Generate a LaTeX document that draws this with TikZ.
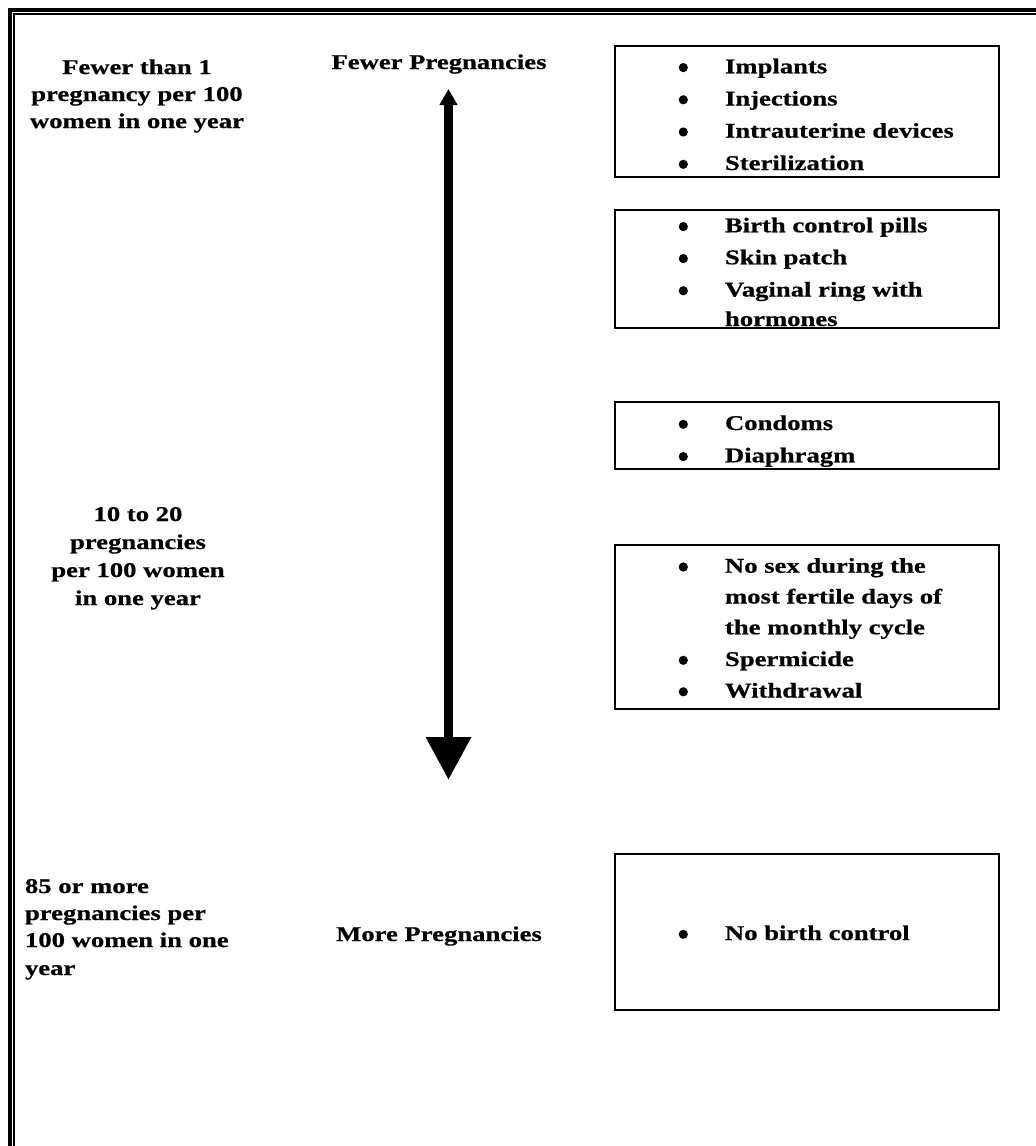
\documentclass[tikz,border=0pt]{standalone}
\usepackage{fontspec}
\setmainfont{Liberation Serif}[FakeStretch=1.27, BoldFeatures={FakeBold=0.6}]
\usetikzlibrary{arrows.meta}
\begin{document}
\begin{tikzpicture}[x=1pt,y=-1pt,
  every node/.style={inner sep=0pt, outer sep=0pt, font=\fontsize{21}{27}\selectfont\bfseries},
  boxframe/.style={draw, line width=2pt, anchor=north west, minimum width=384.3pt},
  item/.style={anchor=base west},
  ctext/.style={anchor=base},
  ltext/.style={anchor=base west},
  bul/.style={fill=black}]
\useasboundingbox (0,0) rectangle (1036,1146);
% page frame
\draw[line width=4.5pt, line join=miter] (9.8,1146) -- (9.8,9.8) -- (1036,9.8);
\draw[line width=1.5pt, line join=miter] (14.2,1146) -- (14.2,14.2) -- (1036,14.2);

% left column
\node[ctext] (l1a) at (137,74) {Fewer than 1};
\node[ctext] (l1b) at (137,101) {pregnancy per 100};
\node[ctext] (l1c) at (137,128) {women in one year};

\node[ctext] (l2a) at (138,521) {10 to 20};
\node[ctext] (l2b) at (138,549) {pregnancies};
\node[ctext] (l2c) at (138,577) {per 100 women};
\node[ctext] (l2d) at (138,605) {in one year};

\node[ltext] (l3a) at (25,893) {85 or more};
\node[ltext] (l3b) at (25,920) {pregnancies per};
\node[ltext] (l3c) at (25,947) {100 women in one};
\node[ltext] (l3d) at (25,975) {year};

% middle
\node[ctext] (fewer) at (439,69) {Fewer Pregnancies};
\node[ctext] (more) at (439,941) {More Pregnancies};
\coordinate (atop) at (448.5,89);
\coordinate (abot) at (448.5,780);
\draw[line width=9.5pt, {Triangle[width=17pt,length=16pt]}-{Triangle[width=43pt,length=43pt]}] (atop) -- (abot);

% boxes
\node[boxframe, minimum height=131.6pt] (box1) at (614.7,45.7) {};
\node[boxframe, minimum height=118.4pt] (box2) at (614.7,210) {};
\node[boxframe, minimum height=66.4pt] (box3) at (614.7,402.3) {};
\node[boxframe, minimum height=164pt] (box4) at (614.7,545) {};
\node[boxframe, minimum height=156pt] (box5) at (614.7,854) {};

% box 1
\foreach \y in {73.3,105.5,137.7,170} \fill[bul] (683.3,\y-5.7) circle[radius=4.6pt];
\node[item] (b1a) at (725,73.3) {Implants};
\node[item] (b1b) at (725,105.5) {Injections};
\node[item] (b1c) at (725,137.7) {Intrauterine devices};
\node[item] (b1d) at (725,170) {Sterilization};

% box 2
\foreach \y in {232.3,264.3,296.5} \fill[bul] (683.3,\y-5.7) circle[radius=4.6pt];
\node[item] (b2a) at (725,232.3) {Birth control pills};
\node[item] (b2b) at (725,264.3) {Skin patch};
\node[item] (b2c) at (725,296.5) {Vaginal ring with};
\node[item] (b2d) at (725,326) {hormones};

% box 3
\foreach \y in {430,462.3} \fill[bul] (683.3,\y-5.7) circle[radius=4.6pt];
\node[item] (b3a) at (725,430) {Condoms};
\node[item] (b3b) at (725,462.3) {Diaphragm};

% box 4
\foreach \y in {572.7,666,697.5} \fill[bul] (683.3,\y-5.7) circle[radius=4.6pt];
\node[item] (b4a) at (725,572.7) {No sex during the};
\node[item] (b4b) at (725,603.5) {most fertile days of};
\node[item] (b4c) at (725,634.3) {the monthly cycle};
\node[item] (b4d) at (725,666) {Spermicide};
\node[item] (b4e) at (725,697.5) {Withdrawal};

% box 5
\fill[bul] (683.3,934.3) circle[radius=4.6pt];
\node[item] (b5a) at (725,940) {No birth control};
\end{tikzpicture}
\end{document}
